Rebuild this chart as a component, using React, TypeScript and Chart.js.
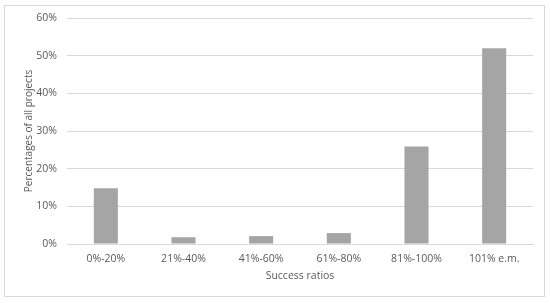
import React, { useEffect, useRef } from "react";
import { Chart, registerables } from "chart.js";

Chart.register(...registerables);

const categories = ["0%-20%", "21%-40%", "41%-60%", "61%-80%", "81%-100%", "101% e.m."];
const values = [14.8, 1.8, 2.1, 2.9, 25.9, 52];
const yTicks = [0, 10, 20, 30, 40, 50, 60];
const xTitle = "Success ratios";
const yTitle = "Percentages of all projects";

const FONT = "'Open Sans', 'Noto Sans', sans-serif";

const titlePlugin = {
  id: "axisTitles",
  afterDraw(chart: any) {
    const { ctx, chartArea } = chart;
    ctx.save();
    ctx.fillStyle = "#595959";
    ctx.textAlign = "center";
    ctx.textBaseline = "middle";
    ctx.font = `10.5px ${FONT}`;
    ctx.fillText(xTitle, (chartArea.left + chartArea.right) / 2, chartArea.bottom + 32);
    ctx.font = `10px ${FONT}`;
    ctx.translate(29, (chartArea.top + chartArea.bottom) / 2);
    ctx.rotate(-Math.PI / 2);
    ctx.fillText(yTitle, 0, 0);
    ctx.restore();
  },
};

export default function App() {
  const ref = useRef<HTMLCanvasElement | null>(null);
  useEffect(() => {
    document.body.style.margin = "0";
    const chart = new Chart(ref.current!, {
      type: "bar",
      data: {
        labels: categories,
        datasets: [
          {
            data: values,
            backgroundColor: "#a5a5a5",
            borderWidth: 0,
            barPercentage: 0.62,
            categoryPercentage: 0.5,
          },
        ],
      },
      options: {
        animation: false,
        responsive: false,
        layout: { padding: { top: 18, right: 17, bottom: 0, left: 0 } },
        plugins: { legend: { display: false }, tooltip: { enabled: false } },
        scales: {
          x: {
            grid: { display: false, drawTicks: false },
            border: { color: "#d9d9d9", width: 1 },
            ticks: { color: "#595959", font: { family: FONT, size: 10.5 }, padding: 9 },
            afterFit: (s: any) => {
              s.height = 59;
            },
          },
          y: {
            min: 0,
            max: 60,
            afterBuildTicks: (s: any) => {
              s.ticks = yTicks.map((v) => ({ value: v }));
            },
            grid: { color: "#d9d9d9", drawTicks: false },
            border: { display: false },
            ticks: {
              color: "#595959",
              font: { family: FONT, size: 10.5 },
              padding: 10,
              callback: (v: any) => v + "%",
            },
            afterFit: (s: any) => {
              s.width = 67;
            },
          },
        },
      },
      plugins: [titlePlugin],
    });
    return () => chart.destroy();
  }, []);
  return (
    <div style={{ position: "relative", width: 550, height: 303, background: "#fff" }}>
      <div
        style={{
          position: "absolute",
          left: 4,
          top: 5,
          width: 541,
          height: 292,
          border: "1px solid #d9d9d9",
          boxSizing: "border-box",
        }}
      />
      <canvas ref={ref} width={550} height={303} style={{ position: "absolute", left: 0, top: 0 }} />
    </div>
  );
}
